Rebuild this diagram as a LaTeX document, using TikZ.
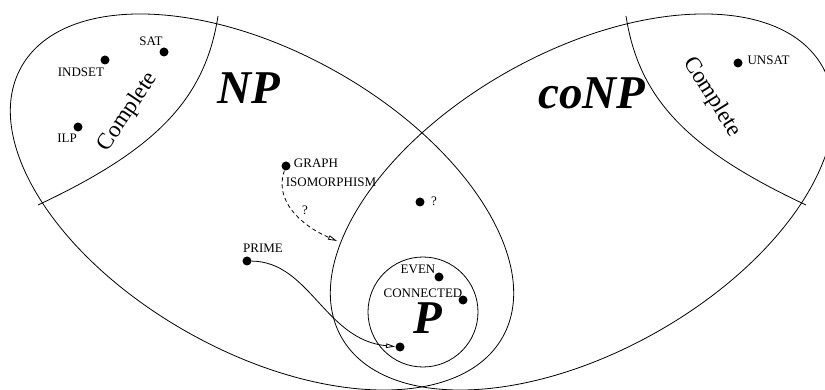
\documentclass[tikz,border=0pt]{standalone}
\usepackage{fontspec}
\setmainfont{Liberation Serif}
\usetikzlibrary{arrows.meta}
\tikzset{
  dot/.style={circle, fill, inner sep=0pt, minimum size=9pt},
  lbl/.style={font=\fontsize{13}{13}\selectfont, inner sep=0pt},
  cls/.style={font=\fontsize{47}{47}\selectfont\bfseries\itshape, inner sep=0pt},
  cpl/.style={font=\fontsize{23}{23}\selectfont, inner sep=0pt},
  tip/.style={-{Triangle[open,length=9pt,width=4.5pt]}},
}

\begin{document}
\begin{tikzpicture}[x=1pt, y=-1pt, line width=0.8pt]
\useasboundingbox (0,0) rectangle (825,390);
\clip (0,0) rectangle (825,390);

% NP and coNP
\draw[rotate around={-29.3:(262,202)}] (262,202) ellipse [x radius=276pt, y radius=150pt];
\draw[rotate around={29.3:(582,202)}] (582,202) ellipse [x radius=276pt, y radius=150pt];
\draw (423,312) circle [radius=55pt];

% complete parts
\draw (218,16) .. controls (205,100) and (155,150) .. (38,205);
\draw (626,16) .. controls (639,100) and (689,150) .. (806,205);

\node[cls] (np) at (249,88) {NP};
\node[cls] (conp) at (592,93) {coNP};
\node[cls] (p) at (428,318) {P};
\node[cpl, rotate=56] (npc) at (128,112) {Complete};
\node[cpl, rotate=-58] (conpc) at (712,97) {Complete};

% problems
\node[dot] (sat) at (164,52) {};
\node[lbl] (satl) at (151,41) {SAT};
\node[dot] (indset) at (105,60) {};
\node[lbl] (indsetl) at (81,72) {INDSET};
\node[dot] (ilp) at (78,127) {};
\node[lbl] (ilpl) at (67,138) {ILP};
\node[dot] (unsat) at (738,63) {};
\node[lbl] (unsatl) at (768.5,60) {UNSAT};
\node[dot] (graph) at (286,166) {};
\node[lbl] (graphl) at (316,163) {GRAPH};
\node[lbl] (isol) at (331,182) {ISOMORPHISM};
\node[dot] (unk) at (420,202) {};
\node[lbl] (unkl) at (434,201) {?};
\node[dot] (prime) at (247,261) {};
\node[lbl] (primel) at (263,248) {PRIME};
\node[dot] (even) at (439,277) {};
\node[lbl] (evenl) at (418,269) {EVEN};
\node[dot] (conn) at (463,300) {};
\node[lbl] (connl) at (423,293) {CONNECTED};
\node[dot] (pbot) at (400,347) {};

% reductions
\coordinate (gtip) at (337,241);
\draw[tip, dash pattern=on 4pt off 3pt] (graph) .. controls (274,200) and (300,225) .. (gtip);
\node[lbl] (gq) at (305,210) {?};
\draw[tip] (prime) .. controls (310,262) and (325,340) .. (pbot);
\end{tikzpicture}
\end{document}
